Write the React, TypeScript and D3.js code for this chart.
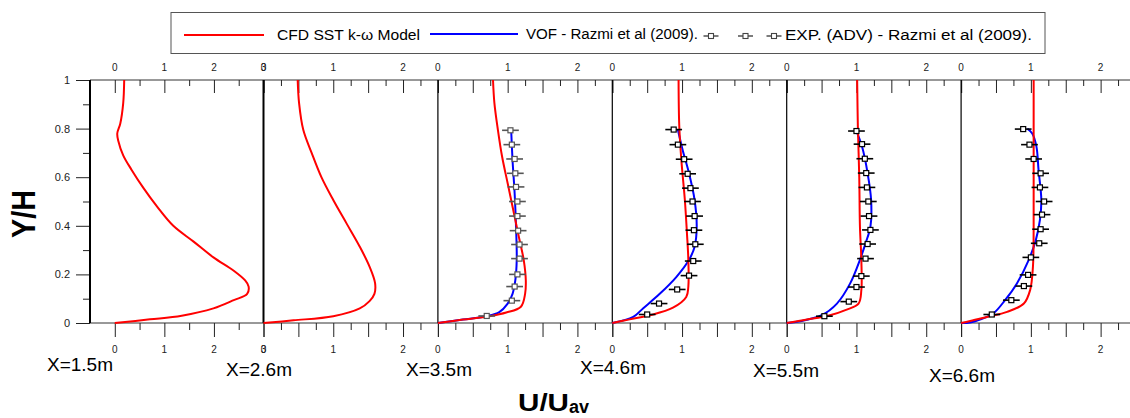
import { useEffect, useRef } from 'react'
import * as d3 from 'd3'

// [U/Uav, Y/H]
const cfd15 = [[0, 0], [0.71, 0.015], [1.35, 0.03], [1.99, 0.06], [2.4, 0.094], [2.67, 0.12], [2.7, 0.15], [2.63, 0.175], [2.4, 0.215], [1.99, 0.27], [1.59, 0.335], [1.18, 0.4], [0.85, 0.48], [0.58, 0.555], [0.34, 0.63], [0.17, 0.69], [0.07, 0.75], [0.05, 0.78], [0.11, 0.82], [0.17, 0.905], [0.19, 1.0]]
const cfd26 = [[0, 0], [0.43, 0.011], [1.0, 0.028], [1.38, 0.06], [1.52, 0.09], [1.59, 0.12], [1.6, 0.163], [1.52, 0.232], [1.38, 0.314], [1.19, 0.41], [1.0, 0.506], [0.83, 0.6], [0.69, 0.7], [0.57, 0.795], [0.51, 0.905], [0.49, 1.0]]
const cfd35 = [[0, 0], [0.36, 0.014], [0.74, 0.028], [0.98, 0.043], [1.19, 0.067], [1.25, 0.12], [1.26, 0.176], [1.23, 0.26], [1.16, 0.355], [1.08, 0.465], [1.0, 0.575], [0.92, 0.685], [0.86, 0.795], [0.81, 0.905], [0.79, 1.0]]
const cfd46 = [[0, 0], [0.25, 0.015], [0.54, 0.032], [0.87, 0.063], [1.06, 0.107], [1.09, 0.15], [1.09, 0.26], [1.07, 0.37], [1.04, 0.506], [0.99, 0.67], [0.96, 0.81], [0.95, 1.0]]
const cfd55 = [[0, 0], [0.29, 0.014], [0.62, 0.032], [0.86, 0.055], [1.03, 0.08], [1.07, 0.135], [1.07, 0.26], [1.05, 0.396], [1.04, 0.6], [1.02, 0.81], [1.01, 1.0]]
const cfd66 = [[0, 0], [0.13, 0.008], [0.37, 0.025], [0.66, 0.046], [0.9, 0.08], [0.99, 0.136], [1.03, 0.232], [1.04, 0.396], [1.04, 0.67], [1.04, 1.0]]

const vof35 = [[0, 0], [0.36, 0.014], [0.69, 0.028], [0.88, 0.045], [1.0, 0.08], [1.07, 0.12], [1.11, 0.176], [1.13, 0.26], [1.12, 0.396], [1.1, 0.534], [1.07, 0.67], [1.05, 0.795]]
const vof46 = [[0, 0], [0.3, 0.025], [0.44, 0.06], [0.68, 0.12], [0.92, 0.19], [1.1, 0.26], [1.18, 0.314], [1.21, 0.396], [1.18, 0.506], [1.1, 0.616], [1.01, 0.71], [0.94, 0.795]]
const vof55 = [[0, 0], [0.19, 0.007], [0.5, 0.032], [0.72, 0.08], [0.91, 0.163], [1.05, 0.26], [1.13, 0.328], [1.2, 0.396], [1.21, 0.506], [1.16, 0.616], [1.08, 0.726], [1.0, 0.79]]
const vof66 = [[0, 0], [0.13, 0.002], [0.27, 0.014], [0.46, 0.039], [0.63, 0.094], [0.8, 0.163], [0.97, 0.26], [1.07, 0.34], [1.13, 0.424], [1.15, 0.506], [1.11, 0.63], [1.08, 0.726], [1.02, 0.78], [0.95, 0.8]]

const exp35 = [[1.04, 0.793], [1.06, 0.734], [1.1, 0.675], [1.11, 0.616], [1.12, 0.56], [1.14, 0.5], [1.14, 0.44], [1.15, 0.38], [1.17, 0.323], [1.17, 0.265], [1.14, 0.2], [1.1, 0.15], [1.06, 0.092], [0.7, 0.029]]
const exp46 = [[0.88, 0.796], [0.94, 0.734], [1.03, 0.674], [1.08, 0.614], [1.12, 0.555], [1.15, 0.5], [1.18, 0.44], [1.17, 0.382], [1.19, 0.324], [1.16, 0.255], [1.1, 0.195], [0.93, 0.138], [0.67, 0.08], [0.5, 0.035]]
const exp55 = [[1.0, 0.79], [1.08, 0.736], [1.12, 0.676], [1.14, 0.617], [1.15, 0.558], [1.17, 0.5], [1.18, 0.44], [1.2, 0.383], [1.16, 0.325], [1.13, 0.265], [1.07, 0.193], [1.0, 0.148], [0.89, 0.088], [0.54, 0.028]]
const exp66 = [[0.89, 0.798], [0.98, 0.734], [1.04, 0.675], [1.14, 0.616], [1.13, 0.558], [1.19, 0.5], [1.16, 0.446], [1.14, 0.386], [1.12, 0.328], [1.0, 0.27], [0.96, 0.198], [0.9, 0.152], [0.72, 0.094], [0.44, 0.035]]
const expError = 0.12

const stations = ['X=1.5m', 'X=2.6m', 'X=3.5m', 'X=4.6m', 'X=5.5m', 'X=6.6m']
const yTicks = [0, 0.2, 0.4, 0.6, 0.8, 1]
const yMinor = [0.1, 0.3, 0.5, 0.7, 0.9]
const legendLabels = ['CFD SST k-\u03c9 Model', 'VOF - Razmi et al (2009).', 'EXP. (ADV) - Razmi et al (2009).']

const cfd = [cfd15, cfd26, cfd35, cfd46, cfd55, cfd66]
const vof = [null, null, vof35, vof46, vof55, vof66]
const exp = [null, null, exp35, exp46, exp55, exp66]

const font = "Arial, 'Liberation Sans', sans-serif"

function App() {
    const ref = useRef<SVGSVGElement>(null)

    useEffect(() => {
        const svg = d3.select(ref.current)
        svg.selectAll('*').remove()

        const top = 80
        const bottom = 323
        const y = d3.scaleLinear().domain([0, 1]).range([bottom, top])

        const starts = [90, 263.5, 437.9, 612.3, 786.7, 961.1]
        const panels = starts.map((x0, i) => {
            if (i === 0) {
                return {
                    x: d3.scaleLinear().domain([-0.5, 3]).range([x0, starts[1]]),
                    major: [0, 1, 2, 3],
                    minor: [0.5, 1.5, 2.5],
                    labels: [0, 1, 2, 3],
                }
            }
            return {
                x: d3.scaleLinear().domain([0, 2.5]).range([x0, x0 + 174.4]),
                major: [0, 0.5, 1, 1.5, 2, 2.5],
                minor: [0.25, 0.75, 1.25, 1.75, 2.25],
                labels: [0, 1, 2],
            }
        })

        // frame lines
        svg.append('line')
            .attr('x1', 90).attr('x2', 1130).attr('y1', top).attr('y2', top)
            .attr('stroke', '#333').attr('stroke-width', 1)
        svg.append('line')
            .attr('x1', 90).attr('x2', 1130).attr('y1', bottom).attr('y2', bottom)
            .attr('stroke', '#333').attr('stroke-width', 1)

        // y axis
        const yAxisMajor = svg.append('g')
            .attr('transform', 'translate(90,0)')
            .call(d3.axisLeft(y).tickValues(yTicks).tickSize(14).tickPadding(6).tickFormat(d3.format('')))
        yAxisMajor.select('.domain').remove()
        yAxisMajor.selectAll('text')
            .attr('font-family', font).attr('font-size', 11).attr('fill', '#222')
        yAxisMajor.selectAll('line').attr('stroke', '#222')
        const yAxisMinor = svg.append('g')
            .attr('transform', 'translate(90,0)')
            .call(d3.axisLeft(y).tickValues(yMinor).tickSize(7).tickFormat(() => ''))
        yAxisMinor.select('.domain').remove()
        yAxisMinor.selectAll('line').attr('stroke', '#222')

        panels.forEach((p, i) => {
            // ticks top (inward) and bottom (outward)
            const tMaj = svg.append('g').attr('transform', `translate(0,${top})`)
                .call(d3.axisTop(p.x).tickValues(p.major).tickSize(-13).tickFormat(() => ''))
            const tMin = svg.append('g').attr('transform', `translate(0,${top})`)
                .call(d3.axisTop(p.x).tickValues(p.minor).tickSize(-6).tickFormat(() => ''))
            const bMaj = svg.append('g').attr('transform', `translate(0,${bottom})`)
                .call(d3.axisBottom(p.x).tickValues(p.major).tickSize(14).tickFormat(() => ''))
            const bMin = svg.append('g').attr('transform', `translate(0,${bottom})`)
                .call(d3.axisBottom(p.x).tickValues(p.minor).tickSize(7).tickFormat(() => ''))
            for (const g of [tMaj, tMin, bMaj, bMin]) {
                g.select('.domain').remove()
                g.selectAll('line').attr('stroke', '#222')
            }

            // tick labels
            for (const ly of [71, 353]) {
                svg.append('g')
                    .selectAll('text')
                    .data(p.labels)
                    .enter()
                    .append('text')
                    .attr('x', d => p.x(d))
                    .attr('y', ly)
                    .attr('text-anchor', 'middle')
                    .attr('font-family', font)
                    .attr('font-size', 10)
                    .attr('fill', '#222')
                    .text(d => d)
            }

            // panel left boundary
            svg.append('line')
                .attr('x1', p.x.range()[0]).attr('x2', p.x.range()[0])
                .attr('y1', top).attr('y2', bottom)
                .attr('stroke', '#000')
                .attr('stroke-width', i < 2 ? 2 : 1.2)

            const path = d3
                .line<number[]>()
                .x(d => p.x(d[0]))
                .y(d => y(d[1]))
                .curve(d3.curveCatmullRom.alpha(0.5))

            const v = vof[i]
            if (v) {
                svg.append('path')
                    .datum(v)
                    .attr('d', path)
                    .style('fill', 'none')
                    .style('stroke', '#0000ff')
                    .style('stroke-width', 2)
            }

            svg.append('path')
                .datum(cfd[i])
                .attr('d', path)
                .style('fill', 'none')
                .style('stroke', '#ff0000')
                .style('stroke-width', 2)

            const e = exp[i]
            if (e) {
                const c = i === 2 ? '#555' : '#000'
                const pts = svg.append('g')
                pts.selectAll('line')
                    .data(e)
                    .enter()
                    .append('line')
                    .attr('x1', d => p.x(d[0] - expError))
                    .attr('x2', d => p.x(d[0] + expError))
                    .attr('y1', d => y(d[1]))
                    .attr('y2', d => y(d[1]))
                    .attr('stroke', c)
                    .attr('stroke-width', 1.6)
                pts.selectAll('rect')
                    .data(e)
                    .enter()
                    .append('rect')
                    .attr('x', d => p.x(d[0]) - 2.5)
                    .attr('y', d => y(d[1]) - 2.5)
                    .attr('width', 5)
                    .attr('height', 5)
                    .attr('fill', '#fff')
                    .attr('stroke', c)
                    .attr('stroke-width', 1.2)
            }
        })

        // station labels
        const stationPos = [[47, 371, 66], [226, 376, 66], [406, 376, 66], [580, 374, 66], [753, 377, 66], [929, 382, 66]]
        svg.append('g')
            .selectAll('text')
            .data(stations)
            .enter()
            .append('text')
            .attr('x', (d, i) => stationPos[i][0])
            .attr('y', (d, i) => stationPos[i][1])
            .attr('textLength', (d, i) => stationPos[i][2])
            .attr('lengthAdjust', 'spacingAndGlyphs')
            .attr('font-family', font)
            .attr('font-size', 18)
            .attr('fill', '#000')
            .text(d => d)

        // axis titles
        svg.append('text')
            .attr('transform', 'translate(35,214) rotate(-90)')
            .attr('text-anchor', 'middle')
            .attr('font-family', font)
            .attr('font-weight', 'bold')
            .attr('font-size', 34)
            .attr('textLength', 48)
            .attr('lengthAdjust', 'spacingAndGlyphs')
            .text('Y/H')

        const xt = svg.append('text')
            .attr('x', 518)
            .attr('y', 411)
            .attr('font-family', font)
            .attr('font-weight', 'bold')
            .attr('font-size', 24)
        xt.append('tspan').attr('textLength', 51).attr('lengthAdjust', 'spacingAndGlyphs').text('U/U')
        xt.append('tspan').attr('font-size', 18).attr('dy', 2).text('av')

        // legend
        const lg = svg.append('g')
        lg.append('rect')
            .attr('x', 171).attr('y', 12.5).attr('width', 874).attr('height', 41)
            .attr('fill', '#fff').attr('stroke', '#555').attr('stroke-width', 1)
        lg.append('line')
            .attr('x1', 184).attr('x2', 264).attr('y1', 35).attr('y2', 35)
            .attr('stroke', '#ff0000').attr('stroke-width', 2)
        lg.append('line')
            .attr('x1', 430).attr('x2', 518).attr('y1', 34).attr('y2', 34)
            .attr('stroke', '#0000ff').attr('stroke-width', 2)
        const legendText = [[277, 40, 143], [526, 39, 172], [785, 40, 247]]
        lg.selectAll('text')
            .data(legendLabels)
            .enter()
            .append('text')
            .attr('x', (d, i) => legendText[i][0])
            .attr('y', (d, i) => legendText[i][1])
            .attr('textLength', (d, i) => legendText[i][2])
            .attr('lengthAdjust', 'spacingAndGlyphs')
            .attr('font-family', font)
            .attr('font-size', 14)
            .attr('fill', '#000')
            .text(d => d)
        const symbols = [711, 745.5, 774]
        const sym = lg.selectAll('g.sym')
            .data(symbols)
            .enter()
            .append('g')
            .attr('transform', d => `translate(${d},36)`)
        sym.append('line')
            .attr('x1', -7.5).attr('x2', 7.5).attr('y1', 0).attr('y2', 0)
            .attr('stroke', '#444').attr('stroke-width', 1.4)
        sym.append('rect')
            .attr('x', -2.5).attr('y', -2.5).attr('width', 5).attr('height', 5)
            .attr('fill', '#fff').attr('stroke', '#444').attr('stroke-width', 1.1)
    })

    return (
        <svg
            ref={ref}
            width={1130}
            height={418}
            style={{ position: 'absolute', left: 0, top: 0, background: '#fff' }}
        />
    )
}

export default App
